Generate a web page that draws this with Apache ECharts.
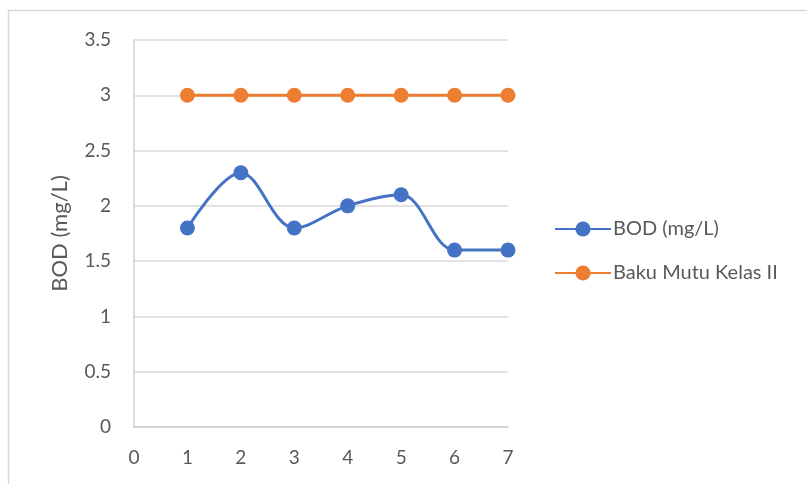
<!DOCTYPE html>
<html>
<head>
<meta charset="utf-8">
<script src="https://cdn.jsdelivr.net/npm/echarts@6/dist/echarts.min.js"></script>
<style>html,body{margin:0;padding:0;background:#fff}#c{width:807px;height:484px}</style>
</head>
<body>
<div id="c"></div>
<script>
const xValues = [1, 2, 3, 4, 5, 6, 7];
const bodValues = [1.8, 2.3, 1.8, 2.0, 2.1, 1.6, 1.6];
const bakuMutuValues = [3, 3, 3, 3, 3, 3, 3];
const seriesNames = ['BOD (mg/L)', 'Baku Mutu Kelas II'];
const yAxisTitle = 'BOD (mg/L)';

const font = 'Lato, "Open Sans", sans-serif';
const chart = echarts.init(document.getElementById('c'), null, {renderer: 'canvas'});
chart.setOption({
  animation: false,
  backgroundColor: '#fff',
  textStyle: {fontFamily: font},
  graphic: [{
    type: 'rect',
    shape: {x: 8.5, y: 10.5, width: 820, height: 500},
    style: {fill: 'none', stroke: '#d9d9d9', lineWidth: 1.5},
    silent: true
  }],
  grid: {left: 134, top: 40, width: 374, height: 387},
  legend: {
    orient: 'vertical',
    left: 554,
    top: 219,
    padding: 0,
    itemWidth: 56,
    itemHeight: 19,
    itemGap: 24,
    textStyle: {color: '#595959', fontSize: 20, fontFamily: font, padding: [0, 0, 0, -3]},
    data: seriesNames
  },
  xAxis: {
    type: 'value',
    min: 0, max: 7, interval: 1,
    axisLine: {show: true, lineStyle: {color: '#d0d0d0', width: 1.5}},
    axisTick: {show: false},
    splitLine: {show: false},
    axisLabel: {color: '#595959', fontSize: 19, margin: 21, fontFamily: font}
  },
  yAxis: {
    type: 'value',
    min: 0, max: 3.5, interval: 0.5,
    name: yAxisTitle,
    nameLocation: 'middle',
    nameGap: 63,
    nameTextStyle: {color: '#595959', fontSize: 22, fontFamily: font},
    axisLine: {show: true, lineStyle: {color: '#d0d0d0', width: 1.5}},
    axisTick: {show: false},
    splitLine: {show: true, lineStyle: {color: '#d9d9d9', width: 1.5}},
    axisLabel: {color: '#595959', fontSize: 19, margin: 23, fontFamily: font}
  },
  series: [
    {
      name: seriesNames[0],
      type: 'line',
      smooth: 0.35,
      data: xValues.map((x, i) => [x, bodValues[i]]),
      symbol: 'circle', symbolSize: 15,
      itemStyle: {color: '#4472C4'},
      lineStyle: {color: '#4472C4', width: 3}
    },
    {
      name: seriesNames[1],
      type: 'line',
      smooth: 0.35,
      data: xValues.map((x, i) => [x, bakuMutuValues[i]]),
      symbol: 'circle', symbolSize: 15,
      itemStyle: {color: '#ED7D31'},
      lineStyle: {color: '#ED7D31', width: 3}
    }
  ]
});
</script>
</body>
</html>
